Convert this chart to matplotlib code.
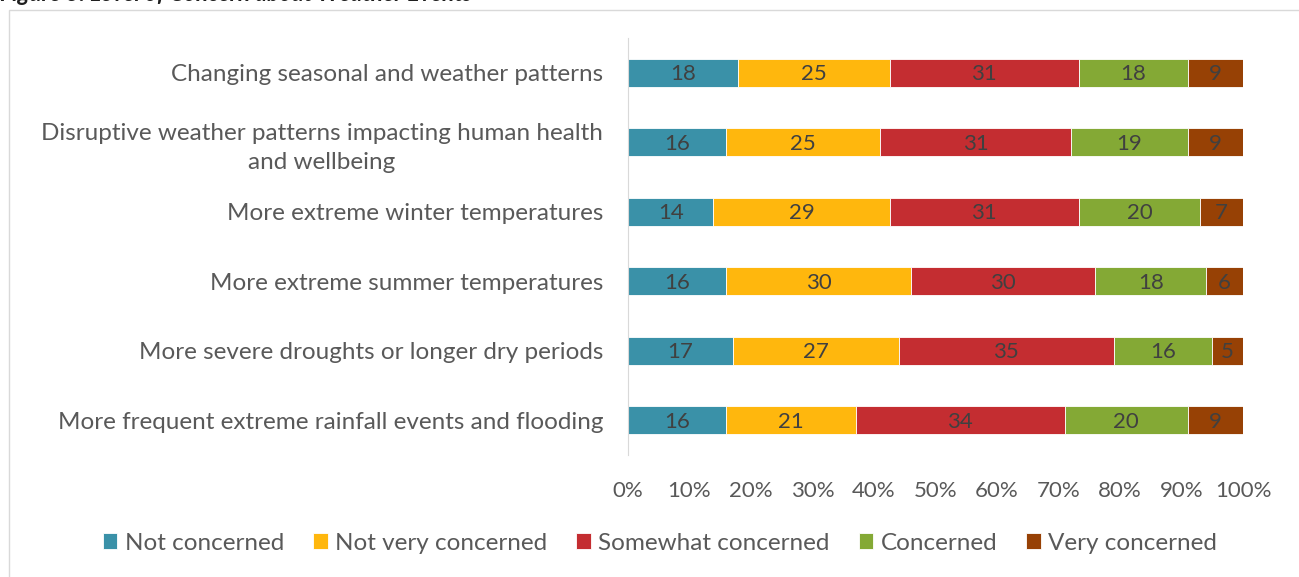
import matplotlib.pyplot as plt
import matplotlib.patches as mpatches
import numpy as np

# categorias y porcentajes por nivel de preocupacion
categorias = [
    "Changing seasonal and weather patterns",
    "Disruptive weather patterns impacting human health\nand wellbeing",
    "More extreme winter temperatures",
    "More extreme summer temperatures",
    "More severe droughts or longer dry periods",
    "More frequent extreme rainfall events and flooding",
]
niveles = ["Not concerned", "Not very concerned", "Somewhat concerned",
           "Concerned", "Very concerned"]
not_concerned = [18, 16, 14, 16, 17, 16]
not_very = [25, 25, 29, 30, 27, 21]
somewhat = [31, 31, 31, 30, 35, 34]
concerned = [18, 19, 20, 18, 16, 20]
very = [9, 9, 7, 6, 5, 9]
ticks = [0, 10, 20, 30, 40, 50, 60, 70, 80, 90, 100]

colores = ["#3A91A8", "#FFB70D", "#C42D31", "#84A935", "#974105"]
series = [not_concerned, not_very, somewhat, concerned, very]

plt.rcParams['font.family'] = ['Lato', 'DejaVu Sans']
fig = plt.figure(figsize=(12.99, 5.77), dpi=100)

# marco del grafico
fig.patches.append(mpatches.Rectangle((9 / 1299, -0.1), 1.1, 1 - 10 / 577 + 0.1,
                                      transform=fig.transFigure, fill=False,
                                      edgecolor="#D9D9D9", linewidth=1))
fig.text(0.0, 1.009, "Figure 3: Level of Concern about Weather Events",
         fontsize=16.5, fontweight="bold", fontstyle="italic", va="center",
         ha="left", color="#1F1F1F")

ax = fig.add_axes([628 / 1299, 1 - 455 / 577, 615 / 1299, 417 / 577])
y = np.arange(len(categorias))

# porcentajes normalizados a 100
totales = np.sum(series, axis=0)
izq = np.zeros(len(categorias))
for vals, col, nom in zip(series, colores, niveles):
    pct = np.array(vals) / totales * 100
    ax.barh(y, pct, left=izq, height=0.4, color=col, edgecolor="white",
            linewidth=0.6, label=nom)
    for yi, l, w, v in zip(y, izq, pct, vals):
        ax.text(l + w / 2, yi + 0.02, str(v), ha="center", va="center",
                fontsize=16, color="#404040")
    izq += pct

ax.set_xlim(0, 100)
ax.set_ylim(5.5, -0.5)
ax.set_yticks(y)
ax.set_yticklabels(categorias, fontsize=17.5, color="#595959",
                   linespacing=1.45)
for t in ax.get_yticklabels():
    t.set_multialignment("center")
ax.set_xticks(ticks)
ax.set_xticklabels([f"{t}%" for t in ticks], fontsize=16, color="#595959")
ax.tick_params(axis="both", length=0)
ax.tick_params(axis="y", pad=18)
ax.tick_params(axis="x", pad=19)
for s in ["top", "right", "bottom"]:
    ax.spines[s].set_visible(False)
ax.spines["left"].set_color("#D9D9D9")

fig.legend(loc="center", bbox_to_anchor=(660 / 1299, 1 - 543 / 577), ncol=5,
           frameon=False, fontsize=17.5, handlelength=0.6, handleheight=0.6,
           handletextpad=0.3, columnspacing=1.2, labelcolor="#595959")

fig.savefig("out.png", dpi=100)
